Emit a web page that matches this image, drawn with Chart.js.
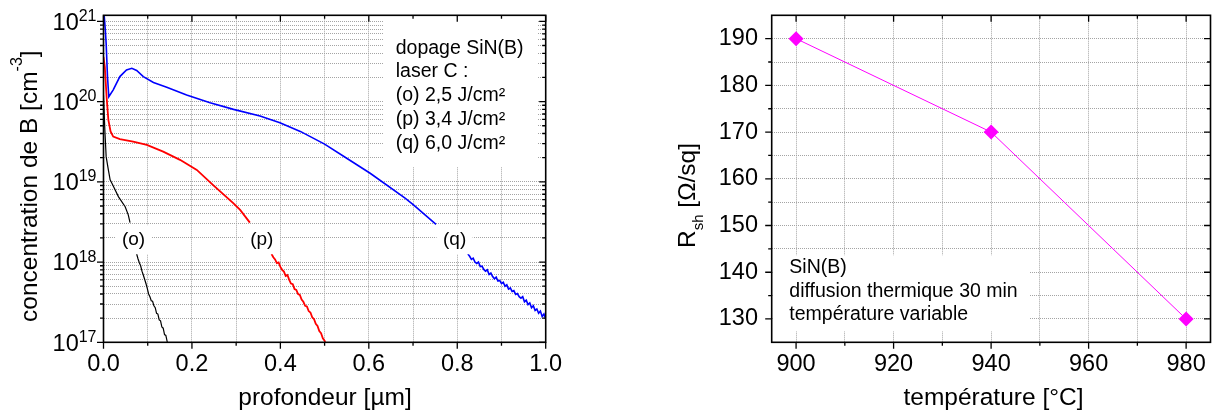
<!DOCTYPE html>
<html>
<head>
<meta charset="utf-8">
<script src="https://cdn.jsdelivr.net/npm/chart.js@4.4.1/dist/chart.umd.min.js"></script>
<style>
  body { margin: 0; background: #fff; }
  #wrap { position: relative; width: 1218px; height: 414px; }
  canvas { position: absolute; top: 0; }
  #profileChart { left: 0; }
  #sheetChart { left: 620px; }
</style>
</head>
<body>
<div id="wrap">
  <canvas id="profileChart" width="620" height="414"></canvas>
  <canvas id="sheetChart" width="598" height="414"></canvas>
</div>
<script>
// boron profiles: depth [µm] / concentration [cm-3], null = break under the label
const depthO = [0, 0.003, 0.006, 0.011, 0.015, 0.019, 0.034, 0.049, 0.056, 0.060, 0.067,
    0.075, 0.078, 0.081, 0.084, 0.087, 0.090, 0.093, 0.096, 0.099, 0.102, 0.105, 0.108, 0.111,
    0.114, 0.117, 0.120, 0.123, 0.126, 0.129, 0.132, 0.135, 0.138, 0.141, 0.144, 0.148];
const concO = [1.2e20, 4.5e19, 2.06e19, 1.41e19, 1.06e19, 9.6e18, 6.5e18, 4.9e18, 3.87e18, 3.1e18, null,
    1.26e18, 1.1e18, 9.8e17, 9.0e17, 7.7e17, 6.9e17, 6.1e17, 5.4e17, 4.7e17, 4.0e17, 3.7e17, 3.3e17, 3.25e17,
    2.85e17, 2.7e17, 2.3e17, 2.25e17, 1.9e17, 1.85e17, 1.55e17, 1.5e17, 1.25e17, 1.22e17, 1.02e17, 8.5e16];

const depthP = [0, 0.003, 0.007, 0.011, 0.016, 0.022, 0.037, 0.067, 0.098, 0.135, 0.173, 0.211,
    0.248, 0.294, 0.309, 0.331, 0.355,
    0.380, 0.384, 0.388, 0.392, 0.396, 0.400, 0.404, 0.408, 0.412, 0.416, 0.420, 0.424, 0.428,
    0.432, 0.436, 0.440, 0.444, 0.448, 0.452, 0.456, 0.460, 0.464, 0.468, 0.472, 0.476, 0.480,
    0.484, 0.488, 0.492, 0.496, 0.500, 0.504];
const concP = [3.6e20, 2.7e20, 1.15e20, 5.9e19, 4.25e19, 3.66e19, 3.4e19, 3.17e19, 2.88e19, 2.38e19, 1.88e19, 1.41e19,
    9.1e18, 5.4e18, 4.47e18, 3.1e18, null,
    1.26e18, 1.15e18, 1.08e18, 9.7e17, 9.9e17, 8.7e17, 8.0e17, 7.6e17, 6.7e17, 6.9e17, 6.0e17, 5.4e17, 5.3e17,
    4.6e17, 4.5e17, 4.0e17, 3.9e17, 3.4e17, 3.2e17, 2.85e17, 2.8e17, 2.45e17, 2.35e17, 2.05e17, 1.95e17, 1.7e17,
    1.6e17, 1.38e17, 1.3e17, 1.12e17, 1.05e17, 9.0e16];

const depthQ = [0, 0.004, 0.006, 0.009, 0.012, 0.022, 0.037, 0.052, 0.064, 0.075, 0.090, 0.113, 0.143,
    0.188, 0.241, 0.294, 0.354, 0.399, 0.445, 0.500, 0.550, 0.603, 0.682, 0.701, 0.752, 0.790,
    0.824, 0.828, 0.832, 0.836, 0.840, 0.844, 0.848, 0.852, 0.856, 0.860, 0.864, 0.868, 0.872,
    0.876, 0.880, 0.884, 0.888, 0.892, 0.896, 0.900, 0.904, 0.908, 0.912, 0.916, 0.920, 0.924,
    0.928, 0.932, 0.936, 0.940, 0.944, 0.948, 0.952, 0.956, 0.960, 0.964, 0.968, 0.972, 0.976,
    0.980, 0.984, 0.988, 0.992, 0.996, 1.000];
const concQ = [1.5e21, 8.0e20, 5.3e20, 2.05e20, 1.15e20, 1.4e20, 2.05e20, 2.48e20, 2.6e20, 2.44e20, 2.05e20, 1.73e20, 1.51e20,
    1.21e20, 9.7e19, 8.0e19, 6.6e19, 5.45e19, 4.25e19, 2.95e19, 1.97e19, 1.28e19, 6.25e18, 5.15e18, 2.95e18, null,
    1.26e18, 1.18e18, 1.08e18, 1.12e18, 1.0e18, 9.6e17, 1.0e18, 8.8e17, 8.9e17, 8.1e17, 7.7e17, 8.0e17, 7.0e17,
    7.3e17, 6.6e17, 6.2e17, 6.5e17, 5.8e17, 5.9e17, 5.4e17, 5.6e17, 5.0e17, 5.2e17, 4.6e17, 4.75e17, 4.3e17,
    4.4e17, 3.95e17, 4.05e17, 3.7e17, 3.55e17, 3.7e17, 3.2e17, 3.35e17, 2.95e17, 3.1e17, 2.7e17, 2.85e17, 2.5e17,
    2.6e17, 2.3e17, 2.45e17, 2.1e17, 2.25e17, 1.95e17];

const curveLabels = ['(o)', '(p)', '(q)'];
const curveLabelDepth = [0.068, 0.358, 0.794];
const curveLabelConc = 1.9e18;
const legendLines = ['dopage SiN(B)', 'laser C :', '(o) 2,5 J/cm²', '(p) 3,4 J/cm²', '(q) 6,0 J/cm²'];

// sheet resistance after thermal diffusion
const temperature = [900, 940, 980];
const sheetRes = [190, 170, 130];
const noteLines = ['SiN(B)', 'diffusion thermique 30 min', 'température variable'];

// ticks
const depthTicks = [0, 0.1, 0.2, 0.3, 0.4, 0.5, 0.6, 0.7, 0.8, 0.9, 1.0];
const depthLabeled = [0, 0.2, 0.4, 0.6, 0.8, 1.0];
const decades = [17, 18, 19, 20, 21];
const tempTicks = [900, 910, 920, 930, 940, 950, 960, 970, 980];
const tempLabeled = [900, 920, 940, 960, 980];
const rshTicks = [130, 135, 140, 145, 150, 155, 160, 165, 170, 175, 180, 185, 190];
const rshLabeled = [130, 140, 150, 160, 170, 180, 190];

const FONT = '"Liberation Sans", Arial, sans-serif';
const GRID = '#a4a4a4';

function toPoints(xs, ys) {
    return xs.map((x, i) => ({ x: x, y: ys[i] }));
}

function logMinor() {
    const out = [];
    decades.slice(0, -1).forEach(d => {
        for (let m = 2; m <= 9; m++) out.push(m * Math.pow(10, d));
    });
    return out;
}

// keep the plot box where it is: no extra room for the end labels
function fixWidth(w) {
    return s => { s.width = w; s.paddingTop = 0; s.paddingBottom = 0; };
}
function fixHeight(h) {
    return s => { s.height = h; s.paddingLeft = 0; s.paddingRight = 0; };
}

// frame with tick marks, outward on bottom/left, inward on top/right
function drawFrame(chart, xMajor, xMinor, yMajor, yMinor) {
    const { ctx, chartArea: a, scales: { x, y } } = chart;
    ctx.save();
    ctx.strokeStyle = '#000';
    ctx.lineWidth = 1.3;
    ctx.beginPath();
    const xMark = (v, len) => {
        const p = x.getPixelForValue(v);
        ctx.moveTo(p, a.bottom); ctx.lineTo(p, a.bottom + len);
        ctx.moveTo(p, a.top); ctx.lineTo(p, a.top + len);
    };
    const yMark = (v, len) => {
        const p = y.getPixelForValue(v);
        ctx.moveTo(a.left, p); ctx.lineTo(a.left - len, p);
        ctx.moveTo(a.right, p); ctx.lineTo(a.right - len, p);
    };
    xMajor.forEach(v => xMark(v, 6.5));
    xMinor.forEach(v => xMark(v, 3.5));
    yMajor.forEach(v => yMark(v, 6.5));
    yMinor.forEach(v => yMark(v, 3.5));
    ctx.stroke();
    ctx.lineWidth = 1.6;
    ctx.strokeRect(a.left, a.top, a.right - a.left, a.bottom - a.top);
    ctx.restore();
}

function drawTitleParts(ctx, x0, y0, rotate, parts) {
    ctx.save();
    ctx.translate(x0, y0);
    if (rotate) ctx.rotate(-Math.PI / 2);
    ctx.fillStyle = '#000';
    ctx.textAlign = 'left';
    ctx.textBaseline = 'alphabetic';
    let total = 0;
    parts.forEach(p => { ctx.font = p.size + 'px ' + FONT; total += ctx.measureText(p.text).width; });
    let cx = rotate ? 0 : -total / 2;
    parts.forEach(p => {
        ctx.font = p.size + 'px ' + FONT;
        ctx.fillText(p.text, cx, p.dy);
        cx += ctx.measureText(p.text).width;
    });
    ctx.restore();
}

const profileDecor = {
    id: 'profileDecor',
    afterDatasetsDraw(chart) {
        const { ctx, chartArea: a, scales: { x, y } } = chart;
        ctx.save();
        ctx.fillStyle = '#fff';
        ctx.fillRect(a.left + 280.5, a.top + 0.7, 153, 151);
        ctx.fillStyle = '#000';
        ctx.font = '19.5px ' + FONT;
        ctx.textAlign = 'left';
        ctx.textBaseline = 'middle';
        legendLines.forEach((t, i) => ctx.fillText(t, a.left + 292.2, a.top + 33 + i * 23.75));

        ctx.font = '19px ' + FONT;
        ctx.textAlign = 'center';
        curveLabels.forEach((t, i) => {
            const px = x.getPixelForValue(curveLabelDepth[i]);
            const py = y.getPixelForValue(curveLabelConc);
            ctx.fillStyle = '#fff';
            ctx.fillRect(px - 18, py - 14.5, 36, 29);
            ctx.fillStyle = '#000';
            ctx.fillText(t, px, py);
        });
        ctx.restore();
    },
    afterDraw(chart) {
        const { ctx, scales: { y } } = chart;
        drawFrame(chart, depthLabeled, depthTicks.filter(v => !depthLabeled.includes(v)),
            decades.map(d => Math.pow(10, d)), logMinor());
        ctx.save();
        ctx.fillStyle = '#000';
        ctx.textAlign = 'right';
        ctx.textBaseline = 'alphabetic';
        decades.forEach(d => {
            const py = y.getPixelForValue(Math.pow(10, d));
            ctx.font = '16px ' + FONT;
            const ew = ctx.measureText(String(d)).width;
            ctx.fillText(String(d), 96.5, py - 0.5);
            ctx.font = '23.5px ' + FONT;
            ctx.fillText('10', 96.5 - ew, py + 8.4);
        });
        ctx.restore();
        drawTitleParts(ctx, 36.5, 322, true, [
            { text: 'concentration de B [cm', size: 24.5, dy: 0 },
            { text: '-3', size: 16, dy: -15 },
            { text: ']', size: 24.5, dy: 0 }
        ]);
        drawTitleParts(ctx, 325, 405, false, [{ text: 'profondeur [µm]', size: 24.5, dy: 0 }]);
    }
};

const sheetDecor = {
    id: 'sheetDecor',
    afterDatasetsDraw(chart) {
        const { ctx, chartArea: a } = chart;
        ctx.save();
        ctx.fillStyle = '#fff';
        ctx.fillRect(a.left + 1, a.top + 240, 257, 76);
        ctx.fillStyle = '#000';
        ctx.font = '19.5px ' + FONT;
        ctx.textAlign = 'left';
        ctx.textBaseline = 'middle';
        noteLines.forEach((t, i) => ctx.fillText(t, a.left + 17.6, a.top + 252.2 + i * 23.8));
        ctx.restore();
    },
    afterDraw(chart) {
        const { ctx } = chart;
        drawFrame(chart, tempLabeled, tempTicks.filter(v => !tempLabeled.includes(v)),
            rshLabeled, rshTicks.filter(v => !rshLabeled.includes(v)));
        drawTitleParts(ctx, 74.5, 248, true, [
            { text: 'R', size: 24.5, dy: 0 },
            { text: 'sh', size: 15, dy: 8 },
            { text: ' [Ω/sq]', size: 24.5, dy: 0 }
        ]);
        drawTitleParts(ctx, 373.5, 405, false, [{ text: 'température [°C]', size: 24.5, dy: 0 }]);
    }
};

const tickFont = { family: FONT, size: 23.5 };

new Chart(document.getElementById('profileChart'), {
    type: 'scatter',
    data: {
        datasets: [
            { data: toPoints(depthO, concO), borderColor: '#000000', borderWidth: 1.2 },
            { data: toPoints(depthP, concP), borderColor: '#ff0000', borderWidth: 1.8 },
            { data: toPoints(depthQ, concQ), borderColor: '#0000ff', borderWidth: 1.6 }
        ].map(d => Object.assign(d, { showLine: true, pointRadius: 0, tension: 0, spanGaps: false }))
    },
    options: {
        responsive: false,
        animation: false,
        events: [],
        layout: { padding: { left: 0, right: 74.3, top: 15.3, bottom: 0 } },
        plugins: { legend: { display: false }, tooltip: { enabled: false } },
        scales: {
            x: {
                type: 'linear', min: 0, max: 1,
                afterBuildTicks: s => { s.ticks = depthTicks.map(v => ({ value: v })); },
                afterFit: fixHeight(71.7),
                grid: { color: GRID, lineWidth: 1, drawTicks: false },
                border: { display: false, dash: [1, 1] },
                ticks: {
                    color: '#000', font: tickFont, padding: 8.3, maxRotation: 0, autoSkip: false,
                    callback: v => depthLabeled.some(d => Math.abs(d - v) < 1e-6) ? v.toFixed(1) : ''
                }
            },
            y: {
                type: 'logarithmic', min: 1e17, max: 1.19e21,
                afterBuildTicks: s => {
                    s.ticks = logMinor().concat(decades.map(d => Math.pow(10, d))).map(v => ({ value: v }));
                },
                afterFit: fixWidth(103.5),
                grid: { color: GRID, lineWidth: 1, drawTicks: false },
                border: { display: false, dash: [1, 1] },
                ticks: { display: false }
            }
        }
    },
    plugins: [profileDecor]
});

new Chart(document.getElementById('sheetChart'), {
    type: 'scatter',
    data: {
        datasets: [{
            data: toPoints(temperature, sheetRes),
            showLine: true,
            tension: 0,
            cubicInterpolationMode: 'default',
            borderColor: '#ff00ff',
            borderWidth: 1,
            pointStyle: 'rectRot',
            pointRadius: 7.5,
            pointBackgroundColor: '#ff00ff',
            pointBorderWidth: 0
        }]
    },
    options: {
        responsive: false,
        animation: false,
        events: [],
        layout: { padding: { left: 0, right: 3, top: 15.3, bottom: 0 } },
        plugins: { legend: { display: false }, tooltip: { enabled: false } },
        scales: {
            x: {
                type: 'linear', min: 895, max: 985,
                afterBuildTicks: s => { s.ticks = tempTicks.map(v => ({ value: v })); },
                afterFit: fixHeight(71.7),
                grid: { color: GRID, lineWidth: 1, drawTicks: false },
                border: { display: false, dash: [1, 1] },
                ticks: {
                    color: '#000', font: tickFont, padding: 8.3, maxRotation: 0, autoSkip: false,
                    callback: v => tempLabeled.includes(v) ? String(v) : ''
                }
            },
            y: {
                type: 'linear', min: 125, max: 195,
                afterBuildTicks: s => { s.ticks = rshTicks.map(v => ({ value: v })); },
                afterFit: fixWidth(151.7),
                grid: { color: GRID, lineWidth: 1, drawTicks: false },
                border: { display: false, dash: [1, 1] },
                ticks: {
                    color: '#000', font: tickFont, padding: 13.7, autoSkip: false,
                    callback: v => rshLabeled.includes(v) ? String(v) : ''
                }
            }
        }
    },
    plugins: [sheetDecor]
});
</script>
</body>
</html>
